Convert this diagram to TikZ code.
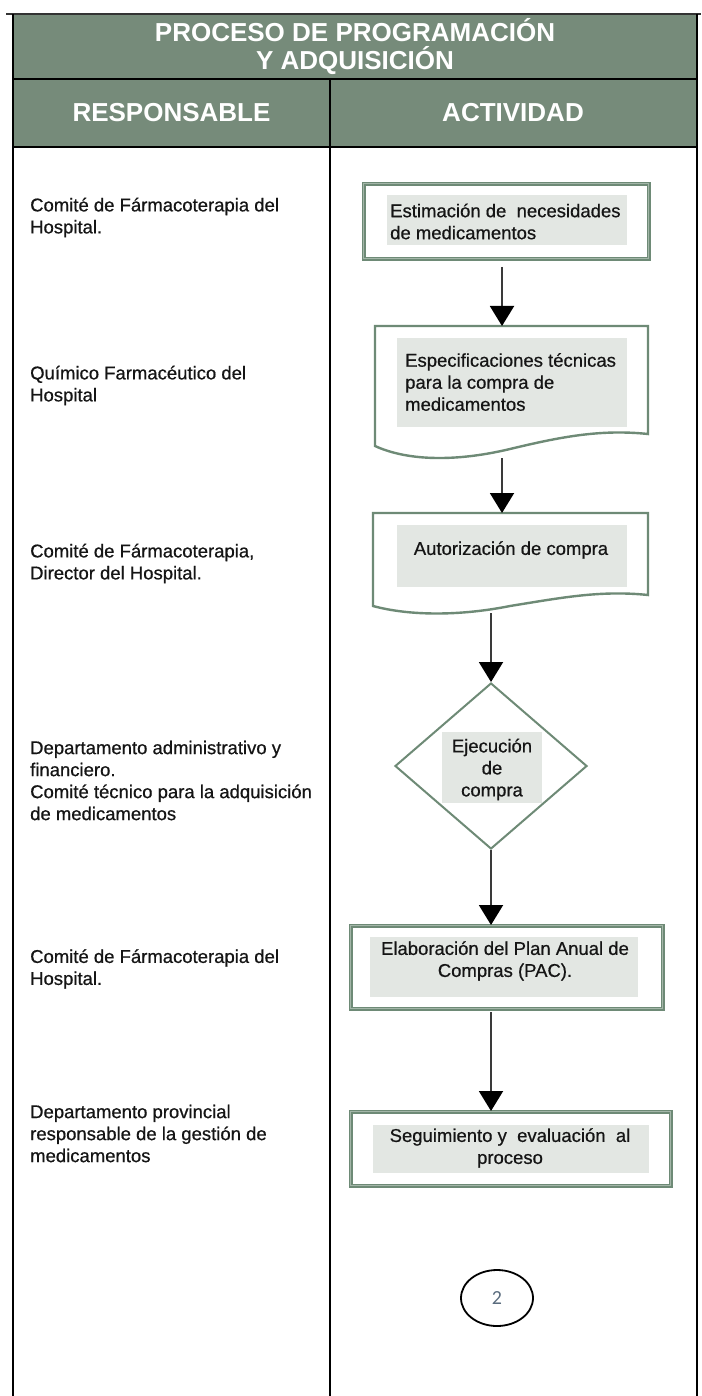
\documentclass[tikz,border=0pt]{standalone}
\usepackage{fontspec}
\setmainfont{Liberation Sans}
\newfontfamily\bodyfont{Liberation Sans}[FakeBold=0.6]
\newfontfamily\digitfont{Carlito}
\usetikzlibrary{arrows.meta,shapes.geometric}
\definecolor{hdr}{HTML}{768B7A}
\definecolor{bgreen}{HTML}{6E8A76}
\definecolor{bgreenl}{HTML}{A3B6A8}
\definecolor{gfill}{HTML}{E3E7E3}
\definecolor{arrgray}{HTML}{3A3A3A}
\definecolor{txtc}{HTML}{151515}
\definecolor{digitc}{HTML}{5A6C7E}
\begin{document}
\begin{tikzpicture}[x=1pt,y=-1pt,
  tline/.style={line width=2.4pt, draw=black},
  hdrbox/.style={fill=hdr, inner sep=0pt, outer sep=0pt},
  hdrtxt/.style={font=\fontsize{26}{28}\selectfont\bfseries, text=white, align=center, inner sep=0pt},
  ltxt/.style={font=\bodyfont\fontsize{18.5}{22}\selectfont, text=txtc, align=left, inner sep=0pt, anchor=west},
  rtxt/.style={font=\bodyfont\fontsize{18.5}{22}\selectfont, text=txtc, inner sep=0pt},
  rectbox/.style={draw=bgreen, line width=1.5pt, double=bgreenl, double distance=0.8pt, inner sep=0pt},
  docline/.style={draw=bgreen, line width=2.4pt, fill=white, line join=miter},
  holder/.style={inner sep=0pt, outer sep=0pt},
  graybox/.style={fill=gfill, inner sep=0pt},
  arr/.style={draw=arrgray, line width=2pt, -{Triangle[width=24pt,length=20pt,color=black]}}
]
\useasboundingbox (0,0) rectangle (701,1396);
\fill[white] (0,0) rectangle (701,1396);

% header
\node[hdrbox, minimum width=684pt, minimum height=65pt, anchor=north west] (hdrtop) at (13,14) {};
\node[hdrbox, minimum width=317pt, minimum height=68pt, anchor=north west] (hdrl) at (13,79) {};
\node[hdrbox, minimum width=367pt, minimum height=68pt, anchor=north west] (hdrr) at (330,79) {};
\node[hdrtxt] (title) at (355,47) {PROCESO DE PROGRAMACIÓN\\Y ADQUISICIÓN};
\node[hdrtxt] (resp) at (171.5,113) {RESPONSABLE};
\node[hdrtxt] (act) at (513,113) {ACTIVIDAD};

% table lines
\draw[line width=2pt, draw=black!80] (6,14) -- (701,14);
\draw[tline] (13,14) -- (13,1396);
\draw[tline] (697,14) -- (697,1396);
\draw[tline] (13,79) -- (697,79);
\draw[tline] (13,147) -- (697,147);
\draw[tline] (330,79) -- (330,1396);

% responsables
\node[ltxt] (r1) at (30,217.5) {Comité de Fármacoterapia del\\Hospital.};
\node[ltxt] (r2) at (30,385.5) {Químico Farmacéutico del\\Hospital};
\node[ltxt] (r3) at (30,563.5) {Comité de Fármacoterapia,\\Director del Hospital.};
\node[ltxt] (r4) at (30,780.5) {Departamento administrativo y\\financiero.\\Comité técnico para la adquisición\\de medicamentos};
\node[ltxt] (r5) at (30,969) {Comité de Fármacoterapia del\\Hospital.};
\node[ltxt] (r6) at (30,1133.5) {Departamento provincial\\responsable de la gestión de\\medicamentos};

% box 1
\node[rectbox, minimum width=285pt, minimum height=75pt, anchor=north west] (b1) at (363,183) {};
\node[graybox, minimum width=240pt, minimum height=50pt, anchor=north west] (g1) at (387,195) {};
\node[ltxt] (t1) at (390,221.5) {Estimación de \ necesidades\\de medicamentos};

% box 2 (document)
\node[holder, minimum width=273pt, minimum height=120pt, anchor=north west] (b2) at (375,326) {};
\draw[docline] (b2.north west) -- (b2.north east) -- (648,434)
  .. controls (600,429) and (560,437) .. (510,449)
  .. controls (460,461) and (410,462) .. (375,446) -- cycle;
\node[graybox, minimum width=230pt, minimum height=89pt, anchor=north west] (g2) at (397,338) {};
\node[ltxt] (t2) at (405,382) {Especificaciones técnicas\\para la compra de\\medicamentos};

% box 3 (document)
\node[holder, minimum width=275pt, minimum height=90pt, anchor=north west] (b3) at (373,513) {};
\draw[docline] (b3.north west) -- (b3.north east) -- (648,595)
  .. controls (600,590) and (560,598) .. (510,606)
  .. controls (460,616) and (410,616) .. (373,606) -- cycle;
\node[graybox, minimum width=230pt, minimum height=62pt, anchor=north west] (g3) at (397,525) {};
\node[rtxt] (t3) at (511,550) {Autorización de compra};

% diamond
\node[diamond, draw=bgreen, line width=2pt, minimum width=192pt, minimum height=166pt, inner sep=0pt] (d) at (491,766) {};
\node[graybox, minimum width=100pt, minimum height=71pt] (gd) at (492,767.5) {};
\node[rtxt, align=center] (td) at (492,769.5) {Ejecución\\de\\compra};

% box 5
\node[rectbox, minimum width=312pt, minimum height=83pt, anchor=north west] (b5) at (350,925) {};
\node[graybox, minimum width=268pt, minimum height=60pt, anchor=north west] (g5) at (370,937) {};
\node[rtxt, align=center] (t5) at (505,961) {Elaboración del Plan Anual de\\Compras (PAC).};

% box 6
\node[rectbox, minimum width=320pt, minimum height=74pt, anchor=north west] (b6) at (350,1111) {};
\node[graybox, minimum width=276pt, minimum height=48pt, anchor=north west] (g6) at (373,1125) {};
\node[rtxt, align=center] (t6) at (510,1148) {Seguimiento y \ evaluación \ al\\proceso};

% connector
\node[ellipse, draw=black, line width=1.8pt, minimum width=72pt, minimum height=56pt, inner sep=0pt, text=digitc, font=\digitfont\fontsize{20}{20}\selectfont] (end) at (497,1298) {2};

% arrows
\coordinate (c1) at (502,267);
\coordinate (c2) at (502,458);
\coordinate (c3) at (491,613);
\coordinate (c5) at (491,1012);
\draw[arr] (c1) -- (c1 |- b2.north);
\draw[arr] (c2) -- (c2 |- b3.north);
\draw[arr] (c3) -- (d.north);
\draw[arr] (d.south) -- (d.south |- b5.north);
\draw[arr] (c5) -- (c5 |- b6.north);
\end{tikzpicture}
\end{document}
